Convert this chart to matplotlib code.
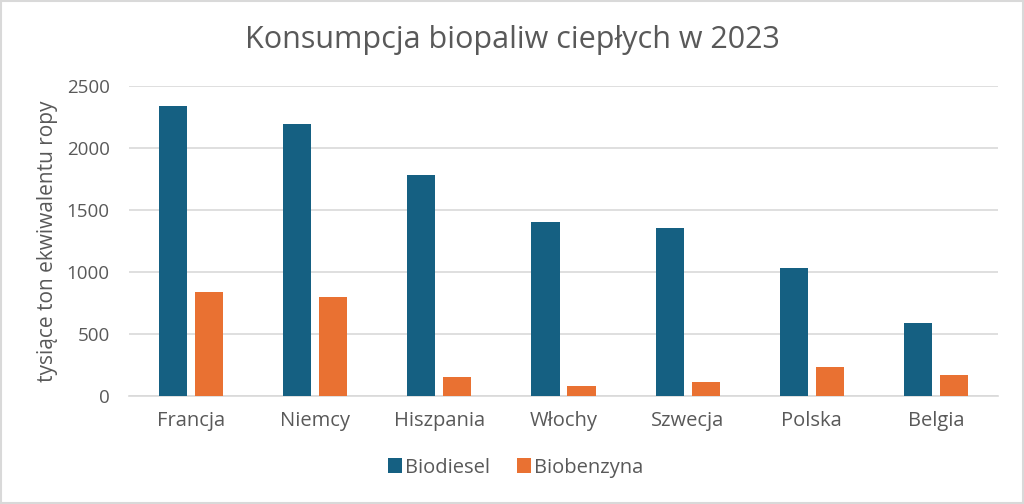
import matplotlib
matplotlib.use('Agg')
import matplotlib.pyplot as plt
import numpy as np
from matplotlib.patches import Rectangle

BLUE = "#156082"
ORANGE = "#E97132"
TXT = "#595959"
GRID = "#D9D9D9"

countries = ["Francja", "Niemcy", "Hiszpania", "Włochy", "Szwecja", "Polska", "Belgia"]
biodiesel = [2340, 2190, 1782, 1401, 1358, 1035, 591]
biobenzyna = [839, 796, 151, 81, 113, 234, 169]

plt.rcParams['font.family'] = ['Open Sans', 'DejaVu Sans']

fig = plt.figure(figsize=(10.24, 5.04), dpi=100, facecolor="white")
ax = fig.add_axes([0.126, 0.2143, 0.8486, 0.6151])

x = np.arange(len(countries))
w = 0.226
off = 0.145
ax.bar(x - off, biodiesel, width=w, color=BLUE, label="Biodiesel", zorder=3)
ax.bar(x + off, biobenzyna, width=w, color=ORANGE, label="Biobenzyna", zorder=3)

ax.set_xlim(-0.5, len(countries) - 0.5)
ax.set_ylim(0, 2500)
ax.set_yticks(range(0, 2501, 500))
ax.set_xticks(x)
ax.set_xticklabels(countries)
ax.yaxis.grid(True, color=GRID, linewidth=1.2, zorder=0)
ax.set_axisbelow(True)
for s in ["top", "right", "left"]:
    ax.spines[s].set_visible(False)
ax.spines["bottom"].set_color(GRID)
ax.spines["bottom"].set_linewidth(1.2)
ax.tick_params(axis="both", length=0, colors=TXT)
ax.tick_params(axis="x", pad=11, labelsize=14.5)
ax.tick_params(axis="y", pad=14, labelsize=13.5)

ax.set_ylabel("tysiące ton ekwiwalentu ropy", color=TXT, fontsize=15, labelpad=6)
fig.suptitle("Konsumpcja biopaliw ciepłych w 2023", color=TXT, fontsize=22, y=0.95)

ax.legend(loc="upper center", bbox_to_anchor=(0.445, -0.14), ncol=2, frameon=False,
          fontsize=14.5, labelcolor=TXT, handlelength=0.7, handleheight=0.7,
          columnspacing=1.3, handletextpad=0.15)

fig.patches.append(Rectangle((0.001, 0.001), 0.998, 0.997, transform=fig.transFigure,
                             fill=False, edgecolor=GRID, linewidth=1.5))

fig.savefig("out.png", dpi=100, facecolor="white")
